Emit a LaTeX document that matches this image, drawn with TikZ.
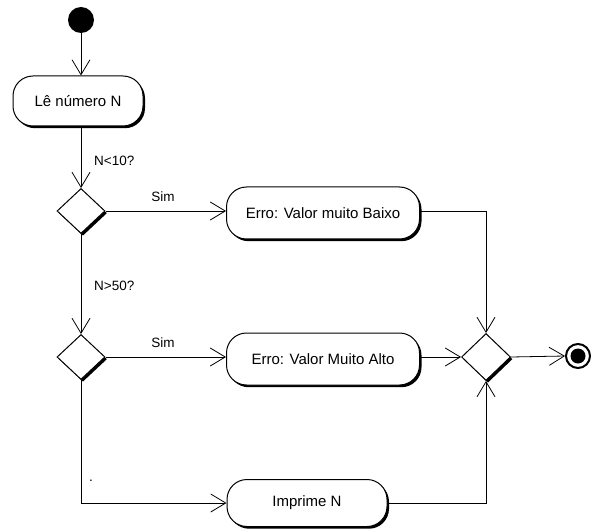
\documentclass[tikz,border=0pt]{standalone}
\usepackage{fontspec}
\setmainfont{Liberation Sans}
\usetikzlibrary{shapes.geometric,shadows,arrows.meta}
\begin{document}
\begin{tikzpicture}[x=1pt,y=-1pt,
  shad/.style={drop shadow={shadow xshift=2pt, shadow yshift=-2.2pt, fill=black, opacity=1}},
  act/.style={shape=rectangle, draw, line width=1pt, fill=white, rounded corners=20pt,
    font=\fontsize{15}{17}\selectfont, inner sep=0pt, shad},
  dec/.style={shape=diamond, draw, line width=1pt, fill=white, inner sep=0pt,
    minimum width=48pt, minimum height=45pt, shad},
  lbl/.style={font=\fontsize{13.5}{15}\selectfont, inner sep=0pt},
  flow/.style={line width=0.8pt, -{Straight Barb[length=15pt,width=18pt,line width=0.8pt]}}
]
\useasboundingbox (0,0) rectangle (591,529);
\node[circle, fill=black, minimum size=26pt, inner sep=0pt] (start) at (81,20) {};
\node[act, minimum width=130pt, minimum height=50pt] (read) at (78,101) {Lê número N};
\node[dec] (d1) at (81,211) {};
\node[dec] (d2) at (81,357) {};
\node[act, minimum width=193pt, minimum height=52pt] (b1) at (323,213) {Erro: Valor muito Baixo};
\node[act, minimum width=193pt, minimum height=52pt] (b2) at (323,359) {Erro: Valor Muito Alto};
\node[act, minimum width=160pt, minimum height=47pt] (b3) at (307,503) {Imprime N};
\node[dec, minimum width=49pt, minimum height=47pt] (m) at (486,357) {};
\node[circle, draw, line width=2pt, fill=white, minimum size=24pt, inner sep=0pt] (end) at (578,356) {};
\node[circle, fill=black, minimum size=15pt, inner sep=0pt] (endin) at (end.center) {};

\node[lbl, anchor=west] (l1) at (94,161) {N<10?};
\node[lbl, anchor=west] (l2) at (94,286) {N>50?};
\node[lbl] (s1) at (163,197) {Sim};
\node[lbl] (s2) at (163,343) {Sim};
\node[lbl] (dot) at (91,481) {.};

\draw[flow] (start) -- (start |- read.north);
\draw[flow] (start |- read.south) -- (d1.north);
\draw[flow] (d1.east) -- (b1.west |- d1.east);
\draw[flow] (d1.south) -- (d2.north);
\draw[flow] (d2.east) -- (b2.west |- d2.east);
\draw[flow] (d2.south) |- (b3.west);
\draw[flow] (b1.east |- d1.east) -| (m.north);
\draw[flow] (b2.east |- m.west) -- (m.west);
\draw[flow] (b3.east) -| (m.south);
\draw[flow] (m.east) -- (end.west);
\end{tikzpicture}
\end{document}
